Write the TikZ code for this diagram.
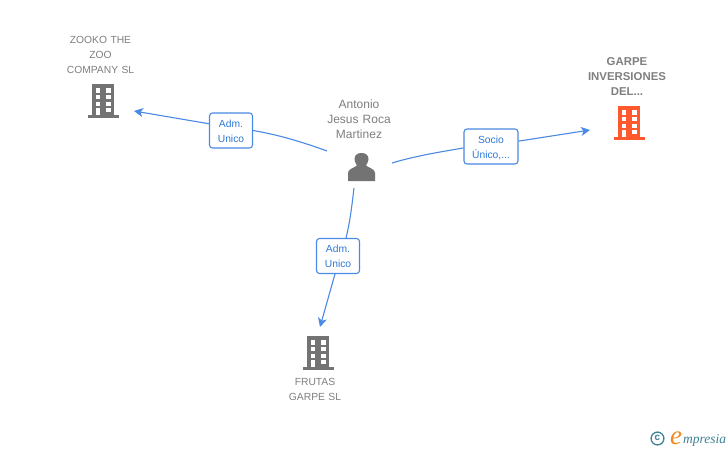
\documentclass[tikz,border=0pt]{standalone}
\usepackage{fontspec}
\setmainfont{Liberation Sans}
\newfontfamily\logofont{Liberation Serif}
\usetikzlibrary{arrows.meta}
\definecolor{txtgray}{HTML}{7F7F7F}
\definecolor{icongray}{HTML}{737373}
\definecolor{linkblue}{HTML}{4A8AE4}
\definecolor{labelblue}{HTML}{2F78D8}
\definecolor{accent}{HTML}{FF5A2E}
\definecolor{logoteal}{HTML}{3F8296}
\definecolor{logoorange}{HTML}{F08A1E}
\newcommand{\tagstrut}[1]{\rule{0pt}{#1}}
\tikzset{
  caption/.style={font=\fontsize{10.3}{15}\selectfont, text=txtgray, align=center, inner sep=0pt, text width=90pt},
  captionbig/.style={caption, font=\fontsize{12}{15}\selectfont},
  captionbold/.style={caption, font=\fontsize{11.4}{15}\selectfont\bfseries},
  tag/.style={draw=linkblue, line width=1.1pt, rounded corners=3pt, fill=white, minimum height=35pt, inner sep=0pt, align=center, text=labelblue, font=\fontsize{10.3}{15}\selectfont},
  link/.style={draw=linkblue, line width=1.1pt},
  arrowlink/.style={link, -{Stealth[length=9pt,width=9pt,inset=2.5pt]}},
  anchorbox/.style={inner sep=0pt, minimum width=32pt, minimum height=34pt}
}
% #1 node name, #2 centre x, #3 top y of tower, #4 colour
\newcommand{\tower}[4]{%
  \node[anchorbox] (#1) at (#2,#3+17) {};
  \begin{scope}[shift={(#2,#3)}]
    \fill[#4] (-11,0) rectangle (11,31);
    \fill[#4] (-15.5,31) rectangle (15.5,34);
    \foreach \yy in {4.3,11,17.7}{
      \fill[white] (-7.3,\yy) rectangle (-2.6,\yy+4.3);
      \fill[white] (2.6,\yy) rectangle (7.5,\yy+4.3);
    }
    \fill[white] (-7.3,23.7) rectangle (-2.6,31);
    \fill[white] (2.6,23.7) rectangle (7.5,28);
  \end{scope}}
\begin{document}
\begin{tikzpicture}[x=1pt,y=-1pt]
\useasboundingbox (0,0) rectangle (728,450);
\fill[white] (0,0) rectangle (728,450);

% person
\node[anchorbox, minimum width=30pt, minimum height=30pt] (person) at (361.5,167) {};
\fill[icongray] (348,181) -- (348,173) .. controls (348,169) and (354,168) .. (357,165.5)
  .. controls (355,163) and (354.5,160) .. (354.5,159) .. controls (354.5,155) and (357.5,153) .. (361.5,153)
  .. controls (365.5,153) and (368.5,155) .. (368.5,159) .. controls (368.5,160) and (368,163) .. (366,165.5)
  .. controls (369,168) and (375,169) .. (375,173) -- (375,181) -- cycle;
\node[captionbig] (personname) at (359,119) {Antonio\\Jesus Roca\\Martinez};

% towers
\tower{zooko}{103}{84}{icongray}
\tower{garpe}{629}{106}{accent}
\tower{frutas}{318}{336}{icongray}

\node[caption] (zookoname) at (100.5,55) {ZOOKO THE\\ZOO\\COMPANY SL};
\node[captionbold] (garpename) at (627,77) {GARPE\\INVERSIONES\\DEL...};
\node[caption] (frutasname) at (315,389.5) {FRUTAS\\GARPE SL};

% free ends of the connectors
\coordinate (p1) at (327,151);
\coordinate (p2) at (392,163);
\coordinate (p3) at (354,188);
\coordinate (t1) at (134,111);
\coordinate (t2) at (590,130);
\coordinate (t3) at (320,327);
\coordinate (q3in) at (346,238);
\coordinate (q3out) at (335,274);

% tags
\node[tag, minimum width=43pt] (tag1) at (231,130.5) {\tagstrut{9pt}Adm.\\Unico};
\node[tag, minimum width=54pt] (tag2) at (491,146.5) {\tagstrut{11pt}Socio\\Único,...};
\node[tag, minimum width=43pt] (tag3) at (338,256) {\tagstrut{9pt}Adm.\\Unico};

% connectors
\draw[link] (p1) .. controls (305,143) and (280,135) .. (tag1.0);
\draw[arrowlink] (tag1.163) -- (t1);
\draw[link] (p2) .. controls (415,156) and (440,152) .. (tag2.183);
\draw[arrowlink] (tag2.11) -- (t2);
\draw[link] (p3) .. controls (352,205) and (350,222) .. (q3in);
\draw[arrowlink] (q3out) -- (t3);

% logo
\draw[logoteal, line width=1.3pt] (657.5,438.5) circle (6.4);
\node[inner sep=0pt, text=logoteal, font=\fontsize{10}{10}\selectfont\bfseries] (copyr) at (657.5,438) {c};
\node[inner sep=0pt, anchor=base west, text=logoorange, font=\logofont\fontsize{27}{27}\selectfont\itshape] (logoe) at (670,444) {e};
\node[inner sep=0pt, anchor=base west, text=logoteal, font=\logofont\fontsize{13.5}{13.5}\selectfont\itshape] (logow) at (683,443) {mpresia};
\end{tikzpicture}
\end{document}
